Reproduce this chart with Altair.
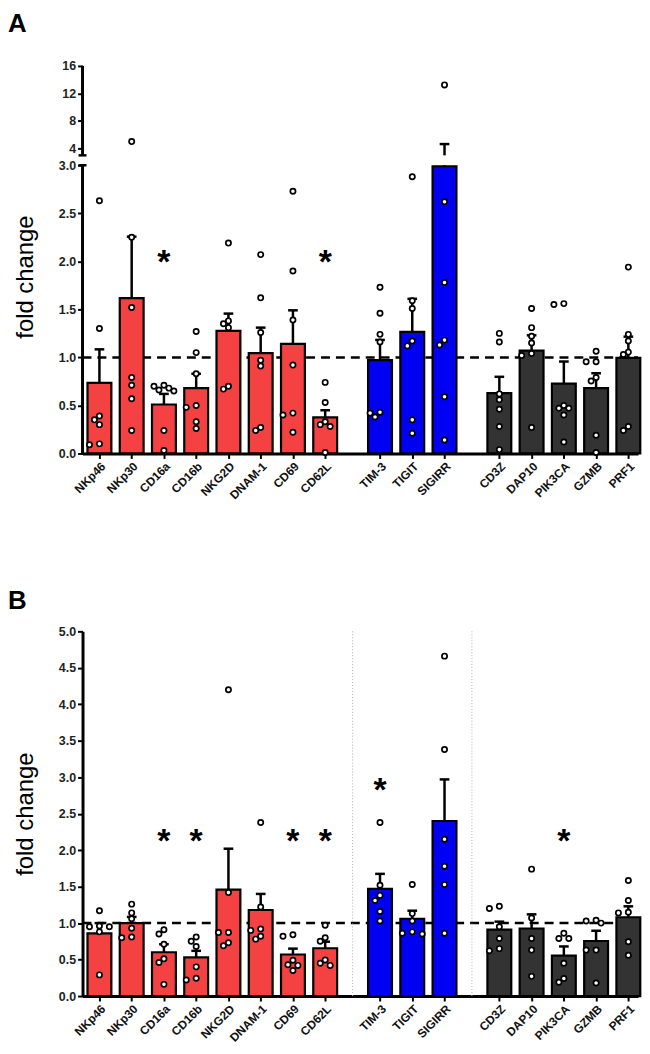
import altair as alt
import pandas as pd
import numpy as np

# ---------------- data ----------------
categories = ["NKp46", "NKp30", "CD16a", "CD16b", "NKG2D", "DNAM-1", "CD69", "CD62L",
              "TIM-3", "TIGIT", "SIGIRR",
              "CD3Z", "DAP10", "PIK3CA", "GZMB", "PRF1"]
group_names = ["receptor", "checkpoint", "signalling"]
groups = ["receptor"] * 8 + ["checkpoint"] * 3 + ["signalling"] * 5

# Panel A
a_mean = [0.734, 1.617, 0.51, 0.68, 1.276, 1.045, 1.14, 0.375,
          0.972, 1.265, 2.99,
          0.628, 1.07, 0.727, 0.68, 0.996]
a_sem = [0.35, 0.64, 0.11, 0.15, 0.18, 0.265, 0.35, 0.075,
         0.21, 0.345, 1.65,
         0.17, 0.16, 0.23, 0.155, 0.22]
a_points = [
    [2.63, 1.30, 0.39, 0.35, 0.30, 0.09, 0.10],
    [5.0, 2.25, 1.52, 0.79, 0.71, 0.57, 0.24],
    [0.70, 0.71, 0.66, 0.65, 0.68, 0.24, 0.03],
    [1.27, 1.05, 0.83, 0.50, 0.48, 0.33, 0.26],
    [2.19, 1.38, 1.35, 1.31, 0.67, 0.70],
    [2.07, 1.62, 1.26, 0.97, 0.91, 0.27, 0.24],
    [2.73, 1.90, 1.39, 0.92, 0.42, 0.40, 0.22],
    [0.74, 0.53, 0.33, 0.30, 0.28, 0.01],
    [1.73, 1.46, 1.24, 1.16, 0.43, 0.38, 0.42],
    [2.88, 1.59, 1.51, 1.17, 1.12, 0.35, 0.21],
    [13.24, 2.62, 1.78, 1.18, 1.13, 0.59, 0.14],
    [1.25, 1.16, 0.62, 0.56, 0.46, 0.28, 0.04],
    [1.51, 1.31, 1.22, 1.15, 1.04, 1.02, 0.27],
    [1.56, 1.55, 0.50, 0.47, 0.47, 0.40, 0.12],
    [1.065, 0.955, 0.955, 0.79, 0.755, 0.19, 0.01],
    [1.94, 1.24, 1.17, 1.055, 1.03, 0.28, 0.24],
]
a_star_cats = ["CD16a", "CD62L"]
a_star_vals = [2.06, 2.06]

# Panel B
b_mean = [0.86, 1.00, 0.60, 0.53, 1.46, 1.18, 0.57, 0.655,
          1.47, 1.06, 2.40,
          0.91, 0.926, 0.555, 0.755, 1.08]
b_sem = [0.14, 0.085, 0.11, 0.09, 0.56, 0.22, 0.08, 0.09,
         0.205, 0.11, 0.57,
         0.11, 0.194, 0.125, 0.14, 0.15]
b_points = [
    [1.17, 0.95, 0.96, 0.88, 0.95, 0.29],
    [1.26, 1.14, 1.06, 0.93, 0.80, 0.81],
    [0.91, 0.85, 0.71, 0.51, 0.46, 0.16],
    [0.81, 0.75, 0.68, 0.40, 0.22, 0.245],
    [4.2, 1.42, 0.87, 0.87, 0.69, 0.73],
    [2.38, 1.22, 0.92, 0.90, 0.78, 0.82],
    [0.82, 0.84, 0.43, 0.49, 0.42, 0.35],
    [0.97, 0.80, 0.75, 0.495, 0.42, 0.45],
    [2.38, 1.52, 1.31, 1.38, 1.16, 1.03],
    [1.53, 1.13, 1.03, 0.88, 0.85, 0.86],
    [4.66, 3.38, 2.15, 1.78, 1.53, 0.86],
    [1.23, 1.20, 0.95, 0.79, 0.62, 0.65],
    [1.74, 1.07, 0.79, 0.63, 0.27],
    [0.86, 0.79, 0.79, 0.45, 0.19, 0.24],
    [1.04, 1.00, 1.03, 0.63, 0.63, 0.18],
    [1.585, 1.31, 1.14, 1.15, 0.745, 0.56],
]
b_star_cats = ["CD16a", "CD16b", "CD69", "CD62L", "TIM-3", "PIK3CA"]
b_star_vals = [2.22, 2.22, 2.22, 2.22, 2.92, 2.22]

# ---------------- layout / style ----------------
RED, BLUE, DARK = "#F44141", "#0000F2", "#333333"
FONT = "Liberation Sans"
GROUP_GAP = 0.7
gidx = [group_names.index(g) for g in groups]
positions = [round(i + GROUP_GAP * g, 2) for i, g in enumerate(gidx)]
separators = [round((positions[i] + positions[i + 1]) / 2, 3)
              for i in range(len(positions) - 1) if gidx[i] != gidx[i + 1]]

W = 559
X_DOMAIN = [-0.524, 16.70]
PX_PER_UNIT = W / (X_DOMAIN[1] - X_DOMAIN[0])
A_H = 390
A_DOMAIN = [0, 3, 3.001, 16]
A_RANGE = [390, 100, 90, 0]
B_H = 367
B_DOMAIN = [0, 5]
B_RANGE = [367, 0]

xs = alt.Scale(domain=X_DOMAIN, nice=False, zero=False)
label_expr = " : ".join(f"abs(datum.value - {p}) < 0.01 ? '{c}'"
                        for p, c in zip(positions, categories)) + " : ''"
x_axis = alt.Axis(values=positions, labelExpr=label_expr, labelAngle=-45,
                  labelAlign="right", labelBaseline="top", labelFont=FONT,
                  labelFontSize=12, labelFontWeight="bold", labelColor="#111111",
                  labelPadding=2, labelFlush=False, labelOverlap=False,
                  tickSize=5, tickWidth=2, tickColor="black",
                  domainColor="black", domainWidth=3, grid=False, title=None)
color_scale = alt.Scale(domain=group_names, range=[RED, BLUE, DARK])


def swarm(values, ypx, step=5.0, min_d=5.5):
    """Simple beeswarm: horizontal pixel offsets so circles don't overlap."""
    placed, offs = [], [0.0] * len(values)
    for i in sorted(range(len(values)), key=lambda k: -values[k]):
        y = ypx(values[i])
        xo = 0.0
        for k in [0, -1, 1, -2, 2, -3, 3]:
            xo = k * step
            if all((xo - px) ** 2 + (y - py) ** 2 >= min_d ** 2 for px, py in placed):
                break
        placed.append((xo, y))
        offs[i] = xo
    return offs


def panel(mean, sem, points, star_cats, star_vals, domain, rng, H, letter,
          letter_y, title_y, y_values, y_label_expr, broken):
    ys = alt.Scale(domain=domain, range=rng, nice=False, zero=False)
    ypx = lambda v: float(np.interp(v, domain, rng))

    y_axis = alt.Axis(values=y_values, labelExpr=y_label_expr, labelFont=FONT,
                      labelFontSize=12.5, labelFontWeight="bold", labelColor="#222222",
                      labelPadding=2, labelOverlap=False, labelFlush=False,
                      tickSize=5, tickWidth=2, tickColor="black",
                      domain=not broken, domainColor="black", domainWidth=3,
                      grid=False, title="fold change", titleFont=FONT,
                      titleFontSize=24, titleFontWeight="normal", titleColor="black",
                      titlePadding=21, **({"titleY": title_y} if title_y is not None else {}))

    def X(field):
        return alt.X(field, scale=xs, axis=x_axis)

    def Y(field=None, datum=None):
        if datum is not None:
            return alt.Y(datum=datum, scale=ys, axis=y_axis)
        return alt.Y(field, scale=ys, axis=y_axis)

    bars_df = pd.DataFrame({"cat": categories, "pos": positions, "grp": groups,
                            "mean": mean, "sem": sem})
    rows = []
    for c, p, vals in zip(categories, positions, points):
        offs = swarm(vals, ypx)
        for v, o in zip(vals, offs):
            rows.append({"cat": c, "xp": p + o / PX_PER_UNIT, "value": v})
    pts_df = pd.DataFrame(rows)
    star_df = pd.DataFrame({"cat": star_cats, "value": star_vals,
                            "pos": [positions[categories.index(c)] for c in star_cats]})
    one = pd.DataFrame({"r": [1]})

    layers = []
    # reference line at 1.0
    layers.append(alt.Chart(one).mark_rule(
        color="black", strokeWidth=2.5, strokeDash=[9, 6]).encode(
        x=alt.value(0), x2=alt.value(W), y=Y(datum=1)))
    if not broken:
        sep_df = pd.DataFrame({"sep": separators})
        layers.append(alt.Chart(sep_df).mark_rule(
            color="#b0b0b0", strokeWidth=1, strokeDash=[1, 2]).encode(
            x=X("sep:Q"), y=Y(datum=domain[0]), y2=alt.Y2(datum=domain[-1])))
    else:
        # broken y-axis line (two pieces) and break marks
        layers.append(alt.Chart(one).mark_rule(color="black", strokeWidth=3).encode(
            x=alt.value(0), y=Y(datum=0), y2=alt.Y2(datum=3)))
        layers.append(alt.Chart(one).mark_rule(color="black", strokeWidth=3).encode(
            x=alt.value(0), y=Y(datum=3.001), y2=alt.Y2(datum=16)))
        for d in (3, 3.001):
            layers.append(alt.Chart(one).mark_rule(color="black", strokeWidth=2.5).encode(
                x=alt.value(-4), x2=alt.value(4), y=Y(datum=d)))

    # bars
    layers.append(alt.Chart(bars_df).transform_calculate(
        lo="datum.pos - 0.37", hi="datum.pos + 0.37").mark_rect(
        stroke="black", strokeWidth=2.2).encode(
        x=X("lo:Q"), x2="hi:Q", y=Y("mean:Q"), y2=alt.Y2(datum=0),
        fill=alt.Fill("grp:N", scale=color_scale, legend=None)))

    # error bars (mean + SEM)
    lower_top = "min(datum.mean + datum.sem, 3)" if broken else "datum.mean + datum.sem"
    layers.append(alt.Chart(bars_df).transform_calculate(top=lower_top).mark_rule(
        color="black", strokeWidth=2.5).encode(x=X("pos:Q"), y=Y("mean:Q"), y2="top:Q"))
    if broken:
        layers.append(alt.Chart(bars_df).transform_filter(
            "datum.mean + datum.sem > 3.001").transform_calculate(
            start="max(datum.mean, 3.001)", top="datum.mean + datum.sem").mark_rule(
            color="black", strokeWidth=2.5).encode(x=X("pos:Q"), y=Y("start:Q"), y2="top:Q"))
    layers.append(alt.Chart(bars_df).transform_calculate(
        top="datum.mean + datum.sem", cl="datum.pos - 0.15", cr="datum.pos + 0.15").mark_rule(
        color="black", strokeWidth=2.5).encode(x=X("cl:Q"), x2="cr:Q", y=Y("top:Q")))

    # individual donors
    layers.append(alt.Chart(pts_df).mark_circle(
        fill="white", stroke="black", strokeWidth=1.7, size=28, opacity=1).encode(
        x=X("xp:Q"), y=Y("value:Q")))

    # significance stars
    layers.append(alt.Chart(star_df).mark_text(
        text="*", font=FONT, fontSize=34, fontWeight="bold", color="black", dy=8).encode(
        x=X("pos:Q"), y=Y("value:Q")))

    # panel letter
    layers.append(alt.Chart(pd.DataFrame({"t": [letter]})).mark_text(
        font=FONT, fontSize=26, fontWeight="bold", align="left", baseline="top",
        color="black").encode(text="t:N", x=alt.value(-75), y=alt.value(letter_y)))

    return alt.layer(*layers).properties(width=W, height=H)


a_y_values = [0, 0.5, 1, 1.5, 2, 2.5, 3, 4, 8, 12, 16]
a_lbl = "datum.value >= 4 ? format(datum.value, 'd') : format(datum.value, '.1f')"
b_y_values = [0, 0.5, 1, 1.5, 2, 2.5, 3, 3.5, 4, 4.5, 5]
b_lbl = "format(datum.value, '.1f')"

panel_a = panel(a_mean, a_sem, a_points, a_star_cats, a_star_vals, A_DOMAIN, A_RANGE,
                A_H, "A", -55, 212, a_y_values, a_lbl, True)
panel_b = panel(b_mean, b_sem, b_points, b_star_cats, b_star_vals, B_DOMAIN, B_RANGE,
                B_H, "B", -43, None, b_y_values, b_lbl, False)

chart = alt.vconcat(panel_a, panel_b, spacing=88).properties(
    padding={"left": 0, "top": 0, "right": 0, "bottom": 0}
).configure_view(stroke=None)

chart.save("out.html", embed_options={"renderer": "svg", "actions": False})
